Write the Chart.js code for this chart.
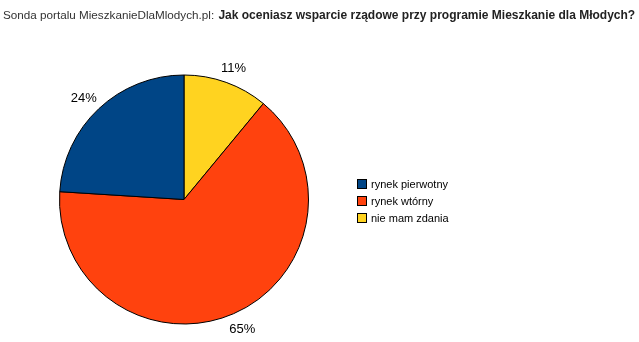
<!DOCTYPE html>
<html>
<head>
<meta charset="utf-8">
<script src="https://cdn.jsdelivr.net/npm/chart.js@4"></script>
<style>
  html, body { margin: 0; padding: 0; background: #fff; }
  #wrap { width: 639px; height: 342px; }
</style>
</head>
<body>
<div id="wrap"><canvas id="myChart" width="639" height="342"></canvas></div>
<script>
const titleLead = 'Sonda portalu MieszkanieDlaMlodych.pl: ';
const titleMain = 'Jak oceniasz wsparcie rządowe przy programie Mieszkanie dla Młodych?';

const categories = ['rynek pierwotny', 'rynek wtórny', 'nie mam zdania'];
const values = [24, 65, 11];
const colors = ['#004586', '#ff420e', '#ffd320'];

// the original runs counter-clockwise, chart.js goes clockwise, so flip the order
const pieLabels = categories.slice().reverse();
const pieValues = values.slice().reverse();
const pieColors = colors.slice().reverse();

const titlePlugin = {
    id: 'mixedTitle',
    afterDraw(chart) {
        const ctx = chart.ctx;
        ctx.save();
        ctx.textBaseline = 'alphabetic';
        ctx.font = '11.7px "Liberation Sans", Arial, sans-serif';
        ctx.fillStyle = '#333';
        ctx.fillText(titleLead, 3, 19);
        const w = ctx.measureText(titleLead).width;
        ctx.font = 'bold 12px "Liberation Sans", Arial, sans-serif';
        ctx.fillStyle = '#222';
        ctx.fillText(titleMain, 4 + w, 19);
        ctx.restore();
    }
};

const legendPlugin = {
    id: 'sideLegend',
    afterDraw(chart) {
        const ctx = chart.ctx;
        ctx.save();
        ctx.font = '11px "Liberation Sans", Arial, sans-serif';
        ctx.textBaseline = 'middle';
        categories.forEach((name, i) => {
            const y = 184 + i * 17;
            ctx.fillStyle = colors[i];
            ctx.fillRect(357.5, y - 4.5, 9, 9);
            ctx.strokeStyle = '#000';
            ctx.lineWidth = 1;
            ctx.strokeRect(357.5, y - 4.5, 9, 9);
            ctx.fillStyle = '#000';
            ctx.fillText(name, 371, y + 1);
        });
        ctx.restore();
    }
};

const pctPlugin = {
    id: 'pctLabels',
    afterDatasetsDraw(chart) {
        const ctx = chart.ctx;
        const meta = chart.getDatasetMeta(0);
        const total = pieValues.reduce((a, b) => a + b, 0);
        ctx.save();
        ctx.font = '13px "Liberation Sans", Arial, sans-serif';
        ctx.fillStyle = '#000';
        ctx.textAlign = 'center';
        ctx.textBaseline = 'middle';
        meta.data.forEach((arc, i) => {
            const mid = (arc.startAngle + arc.endAngle) / 2;
            const r = arc.outerRadius + 9;
            const txt = Math.round(pieValues[i] / total * 100) + '%';
            const w = ctx.measureText(txt).width;
            const cx = Math.cos(mid), cy = Math.sin(mid);
            const x = arc.x + cx * r + cx * w / 2;
            const y = arc.y + cy * r + cy * 7 + 1;
            ctx.fillText(txt, x, y);
        });
        ctx.restore();
    }
};

const data = {
    labels: pieLabels,
    datasets: [{
        data: pieValues,
        backgroundColor: pieColors,
        borderColor: '#000',
        borderWidth: 1
    }]
};

const config = {
    type: 'pie',
    data: data,
    options: {
        responsive: false,
        animation: false,
        layout: { padding: { left: 59, right: 330, top: 74, bottom: 17 } },
        plugins: {
            legend: { display: false },
            title: { display: false },
            tooltip: { enabled: false }
        }
    },
    plugins: [titlePlugin, legendPlugin, pctPlugin]
};

const myChart = new Chart(document.getElementById('myChart'), config);
</script>
</body>
</html>
